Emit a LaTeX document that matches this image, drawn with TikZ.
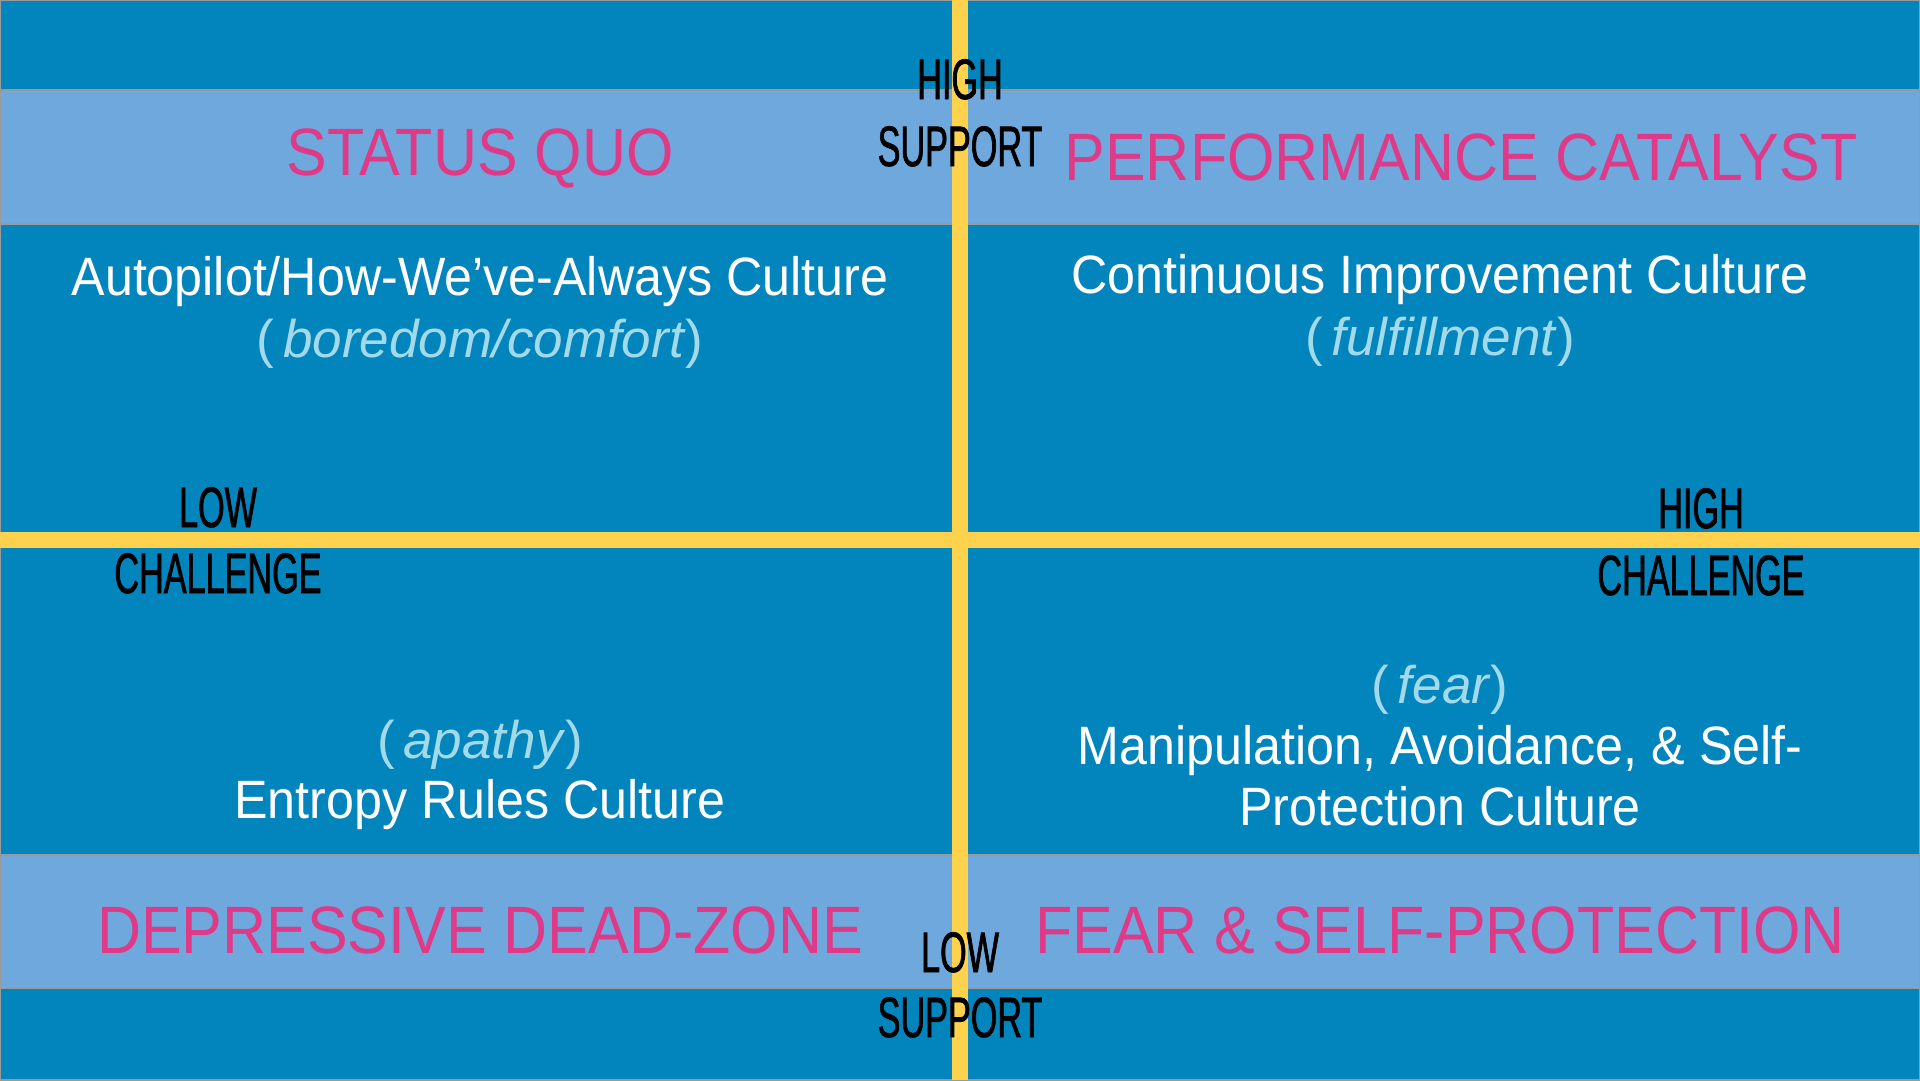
\documentclass[tikz,border=0pt]{standalone}
\usepackage{fontspec}
\setmainfont{Liberation Sans}
\newfontfamily\titlef[FakeStretch=0.91]{Liberation Sans}
\newfontfamily\bodyf[FakeStretch=0.93]{Liberation Sans}
\newfontfamily\italf{Liberation Sans}
\newfontfamily\axisf[FakeStretch=0.6,FakeBold=1.2]{Liberation Sans}
\definecolor{darkbg}{HTML}{0284BD}
\definecolor{lightband}{HTML}{6FA8DC}
\definecolor{bargold}{HTML}{FFD24D}
\definecolor{pinkc}{HTML}{DE3A87}
\definecolor{cyanc}{HTML}{A2DAEA}
\definecolor{edgegrey}{HTML}{9A9A9A}
\tikzset{
  titletext/.style={text=pinkc, font=\titlef\fontsize{67}{80}\selectfont, anchor=base, inner sep=0pt},
  bodytext/.style={text=white, font=\bodyf\fontsize{54}{61}\selectfont, anchor=base, inner sep=0pt},
  italtext/.style={text=cyanc, font=\italf\fontsize{53}{61}\selectfont, anchor=base, inner sep=0pt},
  axistext/.style={text=black, font=\axisf\fontsize{57}{66}\selectfont, anchor=base, inner sep=0pt},
  bandbox/.style={fill=lightband, draw=edgegrey, line width=2pt},
}
\begin{document}
\begin{tikzpicture}[x=1pt,y=-1pt]
\useasboundingbox (0,0) rectangle (1920,1080);
% background
\fill[darkbg] (0,0) rectangle (1920,1080);
% bands
\draw[bandbox] (0,90) rectangle (1920,224);
\draw[bandbox] (0,855) rectangle (1920,988);
% outer frame
\draw[edgegrey, line width=2pt] (0,0) rectangle (1920,1080);
% axes bars
\fill[bargold] (952,0) rectangle (968,1080);
\fill[bargold] (0,532) rectangle (1920,548);
% titles
\node[titletext] (sq) at (480,175) {STATUS QUO};
\node[titletext] (pc) at (1461,180) {PERFORMANCE CATALYST};
\node[titletext] (dd) at (480,953) {DEPRESSIVE DEAD-ZONE};
\node[titletext] (fs) at (1440,953) {FEAR \& SELF-PROTECTION};
% top-left
\node[bodytext] (tl1) at (480,295) {Autopilot/How-We’ve-Always Culture};
\node[italtext] (tl2) at (480,357) {(\,\textit{boredom/comfort})};
% top-right
\node[bodytext] (tr1) at (1440,293) {Continuous Improvement Culture};
\node[italtext] (tr2) at (1440,355) {(\,\textit{fulfillment})};
% bottom-left
\node[italtext] (bl1) at (480,758) {(\,\textit{apathy})};
\node[bodytext] (bl2) at (480,818) {Entropy Rules Culture};
% bottom-right
\node[italtext] (br1) at (1440,703) {(\,\textit{fear})};
\node[bodytext] (br2) at (1440,764) {Manipulation, Avoidance, \& Self-};
\node[bodytext] (br3) at (1440,825) {Protection Culture};
% axis labels
\node[axistext] (hs1) at (960,99) {HIGH};
\node[axistext] (hs2) at (960,166) {SUPPORT};
\node[axistext] (ls1) at (960,972) {LOW};
\node[axistext] (ls2) at (960,1037) {SUPPORT};
\node[axistext] (lc1) at (218,527) {LOW};
\node[axistext] (lc2) at (218,593) {CHALLENGE};
\node[axistext] (hc1) at (1701,528) {HIGH};
\node[axistext] (hc2) at (1701,595) {CHALLENGE};
\end{tikzpicture}
\end{document}
